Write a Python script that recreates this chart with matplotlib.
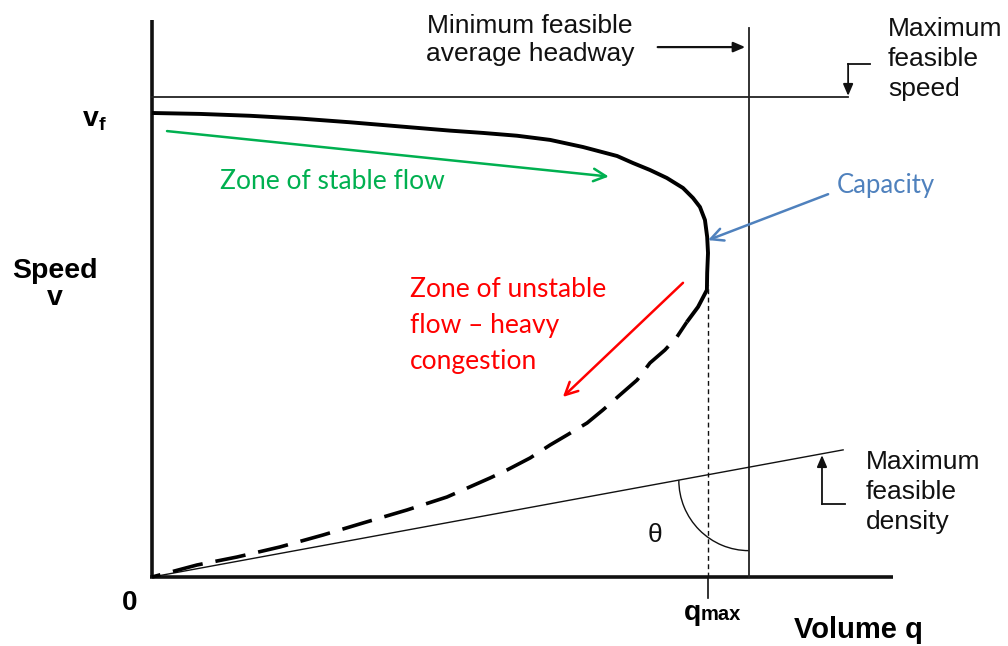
import numpy as np
import matplotlib.pyplot as plt
from matplotlib.patches import Arc

# speed-flow relationship (q in veh/h, v in km/h)
v_free = 100
q_max = 2000
v_max_feasible = 103.4
q_min_headway = 2147
density_slope = 0.01102  # v/q along the maximum feasible density ray

stable_q = [0, 173, 352, 532, 712, 892, 1072, 1191, 1313, 1432, 1550, 1673, 1730, 1791, 1852,
            1910, 1946, 1971, 1989, 1997, 2000, 1997, 1996, 1964, 1924]
stable_v = [100, 99.8, 99.4, 98.8, 98.0, 97.1, 96.2, 95.7, 95.1, 94.2, 92.67, 90.73, 89.22,
            87.72, 85.99, 83.84, 81.68, 79.74, 76.94, 73.28, 69.83, 65.52, 61.85, 58.19, 54.96]

congested_q = [1924, 1888, 1845, 1791, 1745, 1683, 1622, 1565, 1493, 1432, 1360, 1277, 1216,
               1061, 917, 759, 615, 460, 306, 162, 0]
congested_v = [54.96, 51.72, 48.92, 46.12, 42.46, 39.22, 36.0, 33.19, 30.6, 28.45, 25.65, 23.06,
               21.34, 17.24, 14.44, 11.64, 9.05, 6.47, 4.31, 2.59, 0]

GREEN = "#00B050"
BLUE = "#4F81BD"
RED = "#FF0000"
LABEL_FONT = ["Liberation Sans", "DejaVu Sans"]
NOTE_FONT = ["Lato", "DejaVu Sans"]

fig = plt.figure(figsize=(10.08, 6.46), dpi=100)
ax = fig.add_axes([0, 0, 1, 1])
ax.set_xlim(-546.8, 3079.1)
ax.set_ylim(-14.87, 124.35)
ax.axis("off")

# axes
ax.plot([-7, 2665], [0, 0], color="#111", lw=2.6, solid_capstyle="butt")
ax.plot([0, 0], [0, 120], color="#111", lw=2.6, solid_capstyle="butt")

# feasibility limits
ax.plot([0, 2504], [v_max_feasible] * 2, color="#222", lw=1.3)
ax.plot([q_min_headway] * 2, [0, 118.3], color="#222", lw=1.3)
q_dens = np.array([0, 2486])
ax.plot(q_dens, density_slope * q_dens, color="#111", lw=1.0)

# speed-flow curve
ax.plot(stable_q, stable_v, color="#000", lw=2.8, solid_joinstyle="round", solid_capstyle="butt")
ax.plot(congested_q, congested_v, color="#000", lw=2.6, ls=(3.6, (8.5, 3.6)))

# q_max marker
ax.plot([q_max] * 2, [0, 63], color="#111", lw=1.0, dashes=(3.5, 2.5))
ax.plot([q_max] * 2, [-4.5, 0], color="#111", lw=1.2)

# theta arc
q_c, v_c = q_min_headway, density_slope * (q_min_headway - 252)
ax.add_patch(Arc((q_c, v_c), 2 * 252, 2 * 15.2, theta1=180, theta2=270, color="#111", lw=1.0))
ax.text(1809, 9, "θ", fontsize=19, family=LABEL_FONT, ha="center", va="center", color="#111")

# black annotations
ax.annotate("", xy=(q_min_headway - 3, 114.2), xytext=(1809, 114.2),
            arrowprops=dict(arrowstyle="-|>,head_length=0.7,head_width=0.3", color="#111", lw=1.6))
ax.text(1360, 115.7, "Minimum feasible\naverage headway", fontsize=19, family=LABEL_FONT,
        ha="center", va="center", linespacing=1.24, color="#111")

ax.plot([2583, 2504], [110.6, 110.6], color="#111", lw=1.3)
ax.annotate("", xy=(2504, v_max_feasible + 0.3), xytext=(2504, 110.6),
            arrowprops=dict(arrowstyle="-|>,head_length=0.7,head_width=0.3", color="#111", lw=1.3,
                            shrinkA=0, shrinkB=0))
ax.text(2647, 111.6, "Maximum\nfeasible\nspeed", fontsize=19, family=LABEL_FONT,
        ha="left", va="center", linespacing=1.32, color="#111")

ax.plot([2493, 2410], [15.7, 15.7], color="#111", lw=1.3)
ax.annotate("", xy=(2410, density_slope * 2410 - 0.3), xytext=(2410, 15.7),
            arrowprops=dict(arrowstyle="-|>,head_length=0.7,head_width=0.3", color="#111", lw=1.3,
                            shrinkA=0, shrinkB=0))
ax.text(2568, 18.3, "Maximum\nfeasible\ndensity", fontsize=19, family=LABEL_FONT,
        ha="left", va="center", linespacing=1.32, color="#111")

# axis labels
ax.text(-349, 63, "Speed\nv", fontsize=20.5, fontweight="bold", family=LABEL_FONT,
        ha="center", va="center", linespacing=1.07)
ax.text(-190, 98.8, "v", fontsize=20.5, fontweight="bold", family=LABEL_FONT, ha="right", va="center")
ax.text(-192, 97.3, "f", fontsize=14, fontweight="bold", family=LABEL_FONT, ha="left", va="center")
ax.text(-79, -5.6, "0", fontsize=20, fontweight="bold", family=LABEL_FONT, ha="center", va="center")
ax.text(1975, -9.3, "q", fontsize=20.5, fontweight="bold", family=LABEL_FONT, ha="right", va="baseline")
ax.text(1975, -9.3, "max", fontsize=14.5, fontweight="bold", family=LABEL_FONT, ha="left", va="baseline")
ax.text(2540, -11.4, "Volume q", fontsize=21, fontweight="bold", family=LABEL_FONT, ha="center", va="center")

# coloured notes
ax.annotate("", xy=(1643, 86.3), xytext=(54, 96.1),
            arrowprops=dict(arrowstyle="->,head_length=0.9,head_width=0.45", color=GREEN, lw=1.8,
                            shrinkA=0, shrinkB=0))
ax.text(245, 83.6, "Zone of stable flow", fontsize=19, family=NOTE_FONT, color=GREEN,
        ha="left", va="baseline")

ax.annotate("", xy=(2000, 72.6), xytext=(2432, 82.5),
            arrowprops=dict(arrowstyle="->,head_length=0.9,head_width=0.45", color=BLUE, lw=1.8,
                            shrinkA=0, shrinkB=0))
ax.text(2464, 82.8, "Capacity", fontsize=18.5, family=NOTE_FONT, color=BLUE, ha="left", va="baseline")

ax.annotate("", xy=(1478, 38.8), xytext=(1910, 63.4),
            arrowprops=dict(arrowstyle="->,head_length=0.9,head_width=0.45", color=RED, lw=1.8,
                            shrinkA=0, shrinkB=0))
ax.text(928, 54.3, "Zone of unstable\nflow – heavy\ncongestion", fontsize=19, family=NOTE_FONT,
        color=RED, ha="left", va="center", linespacing=1.55)

fig.savefig("out.png", dpi=100)
